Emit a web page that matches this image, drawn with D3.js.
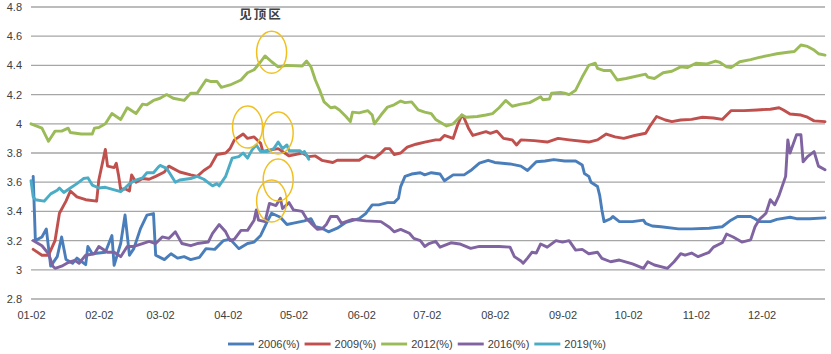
<!DOCTYPE html>
<html>
<head>
<meta charset="utf-8">
<script src="https://cdn.jsdelivr.net/npm/d3@7.9.0/dist/d3.min.js"></script>
<style>
  body { margin: 0; background: #fff; }
  svg text { font-family: "Liberation Sans", Arial, sans-serif; fill: #404040; }
</style>
</head>
<body>
<svg id="chart" width="831" height="354"></svg>
<script>
// ---- data ----
const seriesNames  = ['2006(%)', '2009(%)', '2012(%)', '2016(%)', '2019(%)'];
const seriesColors = ['#4a7ebb', '#c0504d', '#9bbb59', '#8064a2', '#4bacc6'];

const yTicks = [2.8, 3, 3.2, 3.4, 3.6, 3.8, 4, 4.2, 4.4, 4.6, 4.8];
const xTicks = ['01-02', '02-02', '03-02', '04-02', '05-02', '06-02',
                '07-02', '08-02', '09-02', '10-02', '11-02', '12-02'];

const s2006 = [["01-03",3.64],["01-04",3.20],["01-07",3.225],["01-09",3.28],["01-11",3.025],["01-14",3.09],["01-16",3.225],["01-18",3.07],["01-21",3.045],["01-23",3.08],["01-27",3.035],["01-28",3.16],["01-30",3.11],["02-05",3.12],["02-08",3.235],["02-09",3.03],["02-12",3.18],["02-14",3.375],["02-16",3.10],["02-18",3.145],["02-21",3.28],["02-24",3.375],["02-27",3.385],["02-28",3.10],["03-04",3.07],["03-07",3.11],["03-10",3.08],["03-13",3.09],["03-16",3.07],["03-20",3.085],["03-23",3.145],["03-27",3.14],["03-31",3.20],["04-03",3.21],["04-07",3.145],["04-11",3.18],["04-14",3.19],["04-17",3.235],["04-20",3.33],["04-22",3.387],["04-26",3.36],["04-29",3.31],["05-02",3.32],["05-07",3.335],["05-10",3.35],["05-12",3.295],["05-15",3.285],["05-18",3.26],["05-22",3.285],["05-26",3.325],["06-01",3.35],["06-04",3.385],["06-07",3.445],["06-10",3.445],["06-14",3.46],["06-17",3.46],["06-19",3.49],["06-20",3.57],["06-22",3.64],["06-25",3.656],["06-29",3.665],["07-01",3.65],["07-04",3.665],["07-08",3.656],["07-10",3.61],["07-14",3.65],["07-19",3.65],["07-22",3.68],["07-26",3.73],["07-30",3.75],["08-02",3.735],["08-09",3.725],["08-14",3.71],["08-17",3.68],["08-21",3.74],["08-25",3.745],["08-29",3.755],["09-03",3.745],["09-08",3.745],["09-11",3.718],["09-12",3.66],["09-14",3.64],["09-15",3.60],["09-18",3.57],["09-19",3.51],["09-20",3.41],["09-21",3.33],["09-24",3.35],["09-25",3.365],["09-28",3.33],["10-04",3.33],["10-09",3.34],["10-10",3.318],["10-13",3.30],["10-17",3.295],["10-25",3.28],["10-31",3.28],["11-08",3.285],["11-14",3.295],["11-18",3.34],["11-21",3.365],["11-27",3.365],["11-29",3.35],["12-01",3.33],["12-06",3.33],["12-09",3.345],["12-15",3.36],["12-18",3.35],["12-24",3.35],["12-31",3.356]];

const s2009 = [["01-03",3.14],["01-07",3.10],["01-10",3.10],["01-13",3.2],["01-15",3.387],["01-18",3.47],["01-20",3.54],["01-23",3.50],["01-27",3.48],["02-01",3.47],["02-02",3.615],["02-05",3.825],["02-06",3.71],["02-09",3.70],["02-10",3.73],["02-11",3.65],["02-12",3.55],["02-14",3.555],["02-16",3.54],["02-17",3.65],["02-19",3.60],["02-22",3.625],["02-25",3.62],["02-28",3.64],["03-04",3.67],["03-06",3.71],["03-11",3.67],["03-16",3.65],["03-19",3.64],["03-22",3.68],["03-25",3.71],["03-28",3.79],["04-01",3.80],["04-03",3.83],["04-05",3.89],["04-09",3.93],["04-11",3.90],["04-14",3.91],["04-17",3.866],["04-18",3.81],["04-21",3.82],["04-25",3.83],["04-27",3.81],["04-30",3.78],["05-06",3.80],["05-09",3.775],["05-12",3.78],["05-15",3.75],["05-20",3.735],["05-22",3.75],["06-01",3.75],["06-04",3.78],["06-08",3.765],["06-11",3.80],["06-13",3.83],["06-15",3.83],["06-17",3.79],["06-20",3.80],["06-23",3.84],["06-27",3.86],["07-01",3.875],["07-06",3.89],["07-08",3.89],["07-10",3.92],["07-14",3.90],["07-16",3.99],["07-18",4.06],["07-19",4.04],["07-21",3.97],["07-23",3.92],["07-29",3.946],["07-31",3.935],["08-03",3.95],["08-06",3.90],["08-10",3.89],["08-12",3.855],["08-14",3.89],["08-20",3.885],["08-26",3.875],["08-31",3.90],["09-05",3.89],["09-14",3.875],["09-18",3.89],["09-22",3.93],["09-26",3.91],["09-30",3.90],["10-05",3.92],["10-10",3.935],["10-12",3.985],["10-15",4.05],["10-19",4.026],["10-22",4.015],["10-26",4.026],["10-31",4.03],["11-05",4.045],["11-10",4.04],["11-14",4.03],["11-18",4.09],["11-24",4.09],["11-30",4.095],["12-06",4.10],["12-10",4.11],["12-12",4.095],["12-15",4.067],["12-20",4.06],["12-23",4.045],["12-26",4.02],["12-31",4.015]];

const s2012 = [["01-02",4.0],["01-07",3.97],["01-10",3.88],["01-13",3.95],["01-16",3.95],["01-19",3.97],["01-20",3.94],["01-25",3.93],["01-30",3.93],["01-31",3.97],["02-02",3.975],["02-05",4.0],["02-08",4.07],["02-12",4.03],["02-15",4.11],["02-19",4.07],["02-22",4.135],["02-24",4.13],["02-27",4.16],["03-02",4.175],["03-05",4.2],["03-08",4.175],["03-13",4.16],["03-16",4.21],["03-19",4.21],["03-23",4.30],["03-25",4.29],["03-28",4.29],["03-30",4.25],["04-03",4.266],["04-08",4.30],["04-11",4.35],["04-14",4.37],["04-17",4.425],["04-19",4.465],["04-22",4.425],["04-25",4.39],["04-29",4.40],["05-06",4.396],["05-08",4.43],["05-10",4.39],["05-12",4.30],["05-14",4.23],["05-16",4.15],["05-19",4.11],["05-21",4.115],["05-23",4.095],["05-26",4.05],["05-28",4.015],["05-29",4.08],["06-01",4.075],["06-05",4.09],["06-07",4.06],["06-08",4.0],["06-11",4.06],["06-14",4.115],["06-17",4.13],["06-20",4.156],["06-22",4.145],["06-25",4.15],["06-28",4.095],["07-01",4.08],["07-04",4.07],["07-06",4.03],["07-11",3.985],["07-14",4.0],["07-18",4.06],["07-20",4.045],["07-25",4.05],["07-29",4.06],["08-01",4.07],["08-04",4.11],["08-07",4.16],["08-10",4.12],["08-14",4.135],["08-18",4.145],["08-23",4.185],["08-24",4.165],["08-27",4.17],["08-28",4.21],["09-01",4.215],["09-03",4.21],["09-05",4.2],["09-08",4.23],["09-11",4.32],["09-14",4.40],["09-17",4.415],["09-18",4.38],["09-21",4.365],["09-24",4.365],["09-27",4.30],["10-01",4.31],["10-10",4.34],["10-11",4.32],["10-14",4.31],["10-18",4.35],["10-22",4.36],["10-26",4.39],["10-29",4.385],["11-02",4.415],["11-07",4.41],["11-11",4.43],["11-13",4.42],["11-16",4.39],["11-18",4.385],["11-22",4.425],["11-27",4.44],["12-01",4.455],["12-06",4.47],["12-09",4.48],["12-14",4.49],["12-17",4.495],["12-20",4.54],["12-23",4.53],["12-26",4.505],["12-28",4.48],["12-31",4.47]];

const s2016 = [["01-03",3.20],["01-07",3.165],["01-10",3.11],["01-12",3.025],["01-13",3.01],["01-16",3.025],["01-19",3.05],["01-22",3.065],["01-24",3.045],["01-27",3.10],["01-31",3.11],["02-02",3.16],["02-06",3.12],["02-09",3.12],["02-12",3.09],["02-15",3.16],["02-18",3.16],["02-22",3.18],["02-25",3.195],["02-28",3.18],["03-03",3.225],["03-06",3.215],["03-09",3.26],["03-12",3.18],["03-16",3.165],["03-19",3.18],["03-24",3.19],["03-26",3.25],["03-29",3.31],["04-01",3.26],["04-03",3.20],["04-05",3.21],["04-08",3.27],["04-11",3.27],["04-14",3.34],["04-15",3.41],["04-16",3.34],["04-19",3.33],["04-21",3.455],["04-24",3.44],["04-26",3.49],["04-27",3.42],["04-30",3.46],["05-02",3.41],["05-06",3.40],["05-08",3.35],["05-10",3.32],["05-13",3.277],["05-15",3.28],["05-17",3.31],["05-19",3.365],["05-22",3.365],["05-24",3.318],["05-26",3.33],["05-29",3.345],["06-04",3.335],["06-11",3.33],["06-15",3.29],["06-17",3.26],["06-20",3.277],["06-24",3.25],["06-26",3.215],["06-29",3.20],["07-01",3.16],["07-03",3.18],["07-06",3.195],["07-08",3.155],["07-13",3.185],["07-17",3.177],["07-22",3.147],["07-26",3.16],["08-04",3.16],["08-09",3.155],["08-11",3.09],["08-14",3.06],["08-15",3.045],["08-17",3.08],["08-19",3.12],["08-21",3.115],["08-23",3.177],["08-26",3.155],["08-30",3.20],["09-02",3.19],["09-05",3.20],["09-08",3.135],["09-11",3.14],["09-14",3.11],["09-18",3.12],["09-20",3.078],["09-24",3.055],["09-28",3.067],["10-04",3.04],["10-09",3.01],["10-11",3.055],["10-14",3.033],["10-20",3.01],["10-23",3.055],["10-26",3.11],["10-28",3.10],["10-31",3.115],["11-03",3.09],["11-08",3.12],["11-10",3.155],["11-14",3.185],["11-16",3.245],["11-19",3.225],["11-23",3.19],["11-27",3.205],["11-29",3.295],["12-01",3.345],["12-04",3.387],["12-06",3.48],["12-08",3.445],["12-10",3.51],["12-13",3.64],["12-14",3.89],["12-15",3.80],["12-18",3.925],["12-20",3.925],["12-21",3.74],["12-23",3.775],["12-26",3.81],["12-28",3.71],["12-31",3.685]];

const s2019 = [["01-02",3.61],["01-03",3.50],["01-04",3.48],["01-08",3.47],["01-11",3.52],["01-14",3.545],["01-15",3.56],["01-17",3.53],["01-20",3.56],["01-23",3.59],["01-26",3.625],["01-28",3.63],["01-30",3.58],["02-02",3.56],["02-05",3.565],["02-12",3.535],["02-14",3.56],["02-16",3.59],["02-19",3.615],["02-22",3.63],["02-24",3.665],["02-27",3.665],["03-01",3.70],["03-02",3.715],["03-05",3.695],["03-09",3.60],["03-11",3.615],["03-16",3.625],["03-19",3.64],["03-22",3.62],["03-26",3.575],["03-28",3.59],["03-29",3.575],["04-01",3.64],["04-04",3.765],["04-07",3.775],["04-09",3.80],["04-11",3.765],["04-13",3.82],["04-15",3.855],["04-17",3.81],["04-20",3.81],["04-23",3.83],["04-25",3.875],["04-27",3.83],["04-29",3.855],["04-30",3.815],["05-05",3.815],["05-06",3.80],["05-07",3.81],["05-09",3.757]];

const allSeries = [s2006, s2009, s2012, s2016, s2019];

// "top zone" call-outs: centre date + value
const marks = [["04-22",4.49],["04-11",3.978],["04-25",3.937],["04-25",3.615],["04-22",3.471]];
const noteText = '见顶区';

// ---- drawing ----
const svg = d3.select('#chart');
const parse = s => d3.timeParse('%Y-%m-%d')('2019-' + s);

const x = d3.scaleTime()
  .domain([parse('01-02'), parse('12-31')])
  .range([31, 825]);
const y = d3.scaleLinear().domain([2.8, 4.8]).range([299, 7]);

// grid lines
svg.append('g')
  .selectAll('line')
  .data(yTicks)
  .join('line')
    .attr('x1', 31).attr('x2', 825)
    .attr('y1', d => y(d)).attr('y2', d => y(d))
    .attr('stroke', '#a6a6a6')
    .attr('stroke-width', 1.3);

// y labels
const yAxis = svg.append('g')
  .attr('transform', 'translate(24,0)')
  .call(d3.axisLeft(y).tickValues(yTicks).tickSize(0).tickPadding(2).tickFormat(d3.format('~g')));
yAxis.select('.domain').remove();
yAxis.selectAll('text').style('font-size', '11px').attr('fill', '#404040');

// x labels
const xAxis = svg.append('g')
  .attr('transform', 'translate(0,307)')
  .call(d3.axisBottom(x).tickValues(xTicks.map(parse)).tickSize(0).tickPadding(4).tickFormat(d3.timeFormat('%m-%d')));
xAxis.select('.domain').remove();
xAxis.selectAll('text').style('font-size', '11px').attr('fill', '#404040');

// series lines
const line = d3.line()
  .x(d => x(parse(d[0])))
  .y(d => y(d[1]));

svg.append('g')
  .selectAll('path')
  .data(allSeries)
  .join('path')
    .attr('d', line)
    .attr('fill', 'none')
    .attr('stroke', (_, i) => seriesColors[i])
    .attr('stroke-width', 2.9)
    .attr('stroke-linejoin', 'round')
    .attr('stroke-linecap', 'round');

// yellow ellipses
svg.append('g')
  .selectAll('ellipse')
  .data(marks)
  .join('ellipse')
    .attr('cx', d => x(parse(d[0])))
    .attr('cy', d => y(d[1]))
    .attr('rx', 15).attr('ry', 21)
    .attr('fill', 'none')
    .attr('stroke', '#f0c020')
    .attr('stroke-width', 1.5);

svg.append('text')
  .attr('x', 261).attr('y', 15).attr('dy', '0.35em')
  .attr('text-anchor', 'middle')
  .style('font-family', '"Noto Sans CJK SC", sans-serif')
  .style('font-size', '12.5px')
  .style('font-weight', 'bold')
  .style('letter-spacing', '2px')
  .attr('fill', '#222')
  .text(noteText);

// legend
const legend = svg.append('g').attr('transform', 'translate(228,344)');
let lx = 0;
seriesNames.forEach((name, i) => {
  const g = legend.append('g').attr('transform', `translate(${lx},0)`);
  g.append('line').attr('x1', 0).attr('x2', 26)
    .attr('stroke', seriesColors[i]).attr('stroke-width', 2.9);
  const t = g.append('text').attr('x', 30).attr('dy', '0.35em')
    .style('font-size', '11px').text(name);
  lx += 30 + t.node().getComputedTextLength() + 5;
});
</script>
</body>
</html>
